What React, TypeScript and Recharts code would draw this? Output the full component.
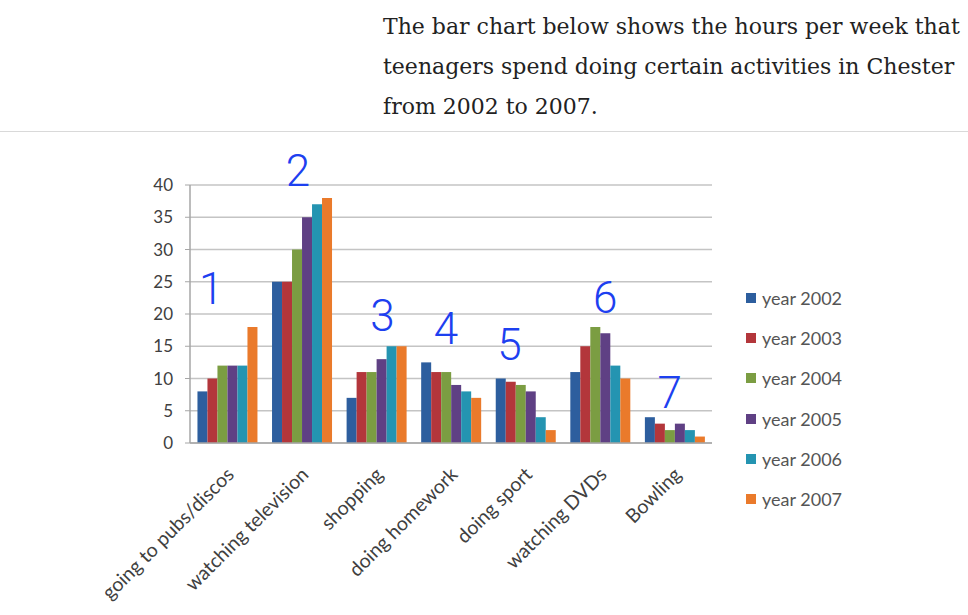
import React from "react";
import { BarChart, Bar, XAxis, YAxis, CartesianGrid, Legend, ReferenceDot } from "recharts";

// activities on the x axis
const activities = [
  "going to pubs/discos",
  "watching television",
  "shopping",
  "doing homework",
  "doing sport",
  "watching DVDs",
  "Bowling",
];

// hours per week, one array per year
const y2002 = [8, 25, 7, 12.5, 10, 11, 4];
const y2003 = [10, 25, 11, 11, 9.5, 15, 3];
const y2004 = [12, 30, 11, 11, 9, 18, 2];
const y2005 = [12, 35, 13, 9, 8, 17, 3];
const y2006 = [12, 37, 15, 8, 4, 12, 2];
const y2007 = [18, 38, 15, 7, 2, 10, 1];

const yearNames = ["year 2002", "year 2003", "year 2004", "year 2005", "year 2006", "year 2007"];
const yTicks = [0, 5, 10, 15, 20, 25, 30, 35, 40];

// hand-written numbers over each group
const noteLabels = ["1", "2", "3", "4", "5", "6", "7"];
const noteLevels = [24, 42.2, 19.7, 17.7, 15.2, 22.5, 7.8];

const COLORS = ["#2d5e9e", "#b3363b", "#7b9d42", "#5f4084", "#2494b1", "#ea7a2b"];
const NOTE_DX = [-16, -4, 6, -5, -16, 5, -5];

const series = [y2002, y2003, y2004, y2005, y2006, y2007];
const data = activities.map((name, i) => {
  const row: Record<string, string | number> = { name };
  yearNames.forEach((y, k) => (row[y] = series[k][i]));
  return row;
});

function ActivityTick({ x, y, payload }: any) {
  return (
    <g transform={`translate(${x + 3},${y + 20}) rotate(-45)`}>
      <text textAnchor="end" dy="0.35em" fontSize={19.5} fill="#404040" fontFamily="Lato, sans-serif">
        {payload.value}
      </text>
    </g>
  );
}

function YearLegend() {
  return (
    <div style={{ fontFamily: "Lato, sans-serif" }}>
      {yearNames.map((n, i) => (
        <div key={n} style={{ height: 40.2, display: "flex", alignItems: "center" }}>
          <span style={{ width: 10, height: 10, background: COLORS[i], marginRight: 6 }} />
          <span style={{ fontSize: 18, color: "#555" }}>{n}</span>
        </div>
      ))}
    </div>
  );
}

function Note({ viewBox, value, dx }: any) {
  if (!viewBox) return null;
  return (
    <text
      x={viewBox.x + dx}
      y={viewBox.y}
      dy="0.35em"
      textAnchor="middle"
      fontSize={44}
      fontWeight={300}
      fill="#1d40f0"
      fontFamily="Roboto, sans-serif"
    >
      {value}
    </text>
  );
}

export default function App() {
  return (
    <div style={{ position: "absolute", left: 0, top: 0, width: 968, height: 615, background: "#fff", overflow: "hidden" }}>
      <div
        style={{
          position: "absolute",
          left: 383,
          top: 7,
          fontFamily: "'DejaVu Serif', serif",
          fontSize: 22,
          lineHeight: "40px",
          color: "#222",
          whiteSpace: "nowrap",
        }}
      >
        The bar chart below shows the hours per week that
        <br />
        teenagers spend doing certain activities in Chester
        <br />
        from 2002 to 2007.
      </div>
      <div style={{ position: "absolute", left: 0, top: 131, width: 968, height: 1, background: "#d9d9d9" }} />
      <div style={{ position: "absolute", left: 0, top: 0 }}>
        <BarChart
          width={968}
          height={615}
          data={data}
          margin={{ top: 185, right: 256, bottom: 22, left: 150 }}
          barCategoryGap="10%"
          barGap={0}
        >
          <CartesianGrid vertical={false} stroke="#c4c4c4" strokeWidth={1.5} />
          <XAxis
            dataKey="name"
            interval={0}
            height={150}
            tickLine={false}
            axisLine={{ stroke: "#a6a6a6", strokeWidth: 1.5 }}
            tick={<ActivityTick />}
          />
          <YAxis
            width={40}
            domain={[0, 40]}
            ticks={yTicks}
            interval={0}
            tickSize={5}
            tickMargin={12}
            axisLine={{ stroke: "#a6a6a6", strokeWidth: 1.5 }}
            tickLine={{ stroke: "#a6a6a6" }}
            tick={{ fontSize: 17, fill: "#404040", fontFamily: "Lato, sans-serif" }}
          />
          <Legend
            layout="vertical"
            align="center"
            verticalAlign="middle"
            content={<YearLegend />}
            wrapperStyle={{ left: 746, top: 278, width: 140, height: 250 }}
          />
          {yearNames.map((y, i) => (
            <Bar key={y} dataKey={y} fill={COLORS[i]} isAnimationActive={false} />
          ))}
          {activities.map((a, i) => (
            <ReferenceDot
              key={a}
              x={a}
              y={noteLevels[i]}
              r={0}
              ifOverflow="visible"
              label={<Note value={noteLabels[i]} dx={NOTE_DX[i]} />}
            />
          ))}
        </BarChart>
      </div>
    </div>
  );
}
